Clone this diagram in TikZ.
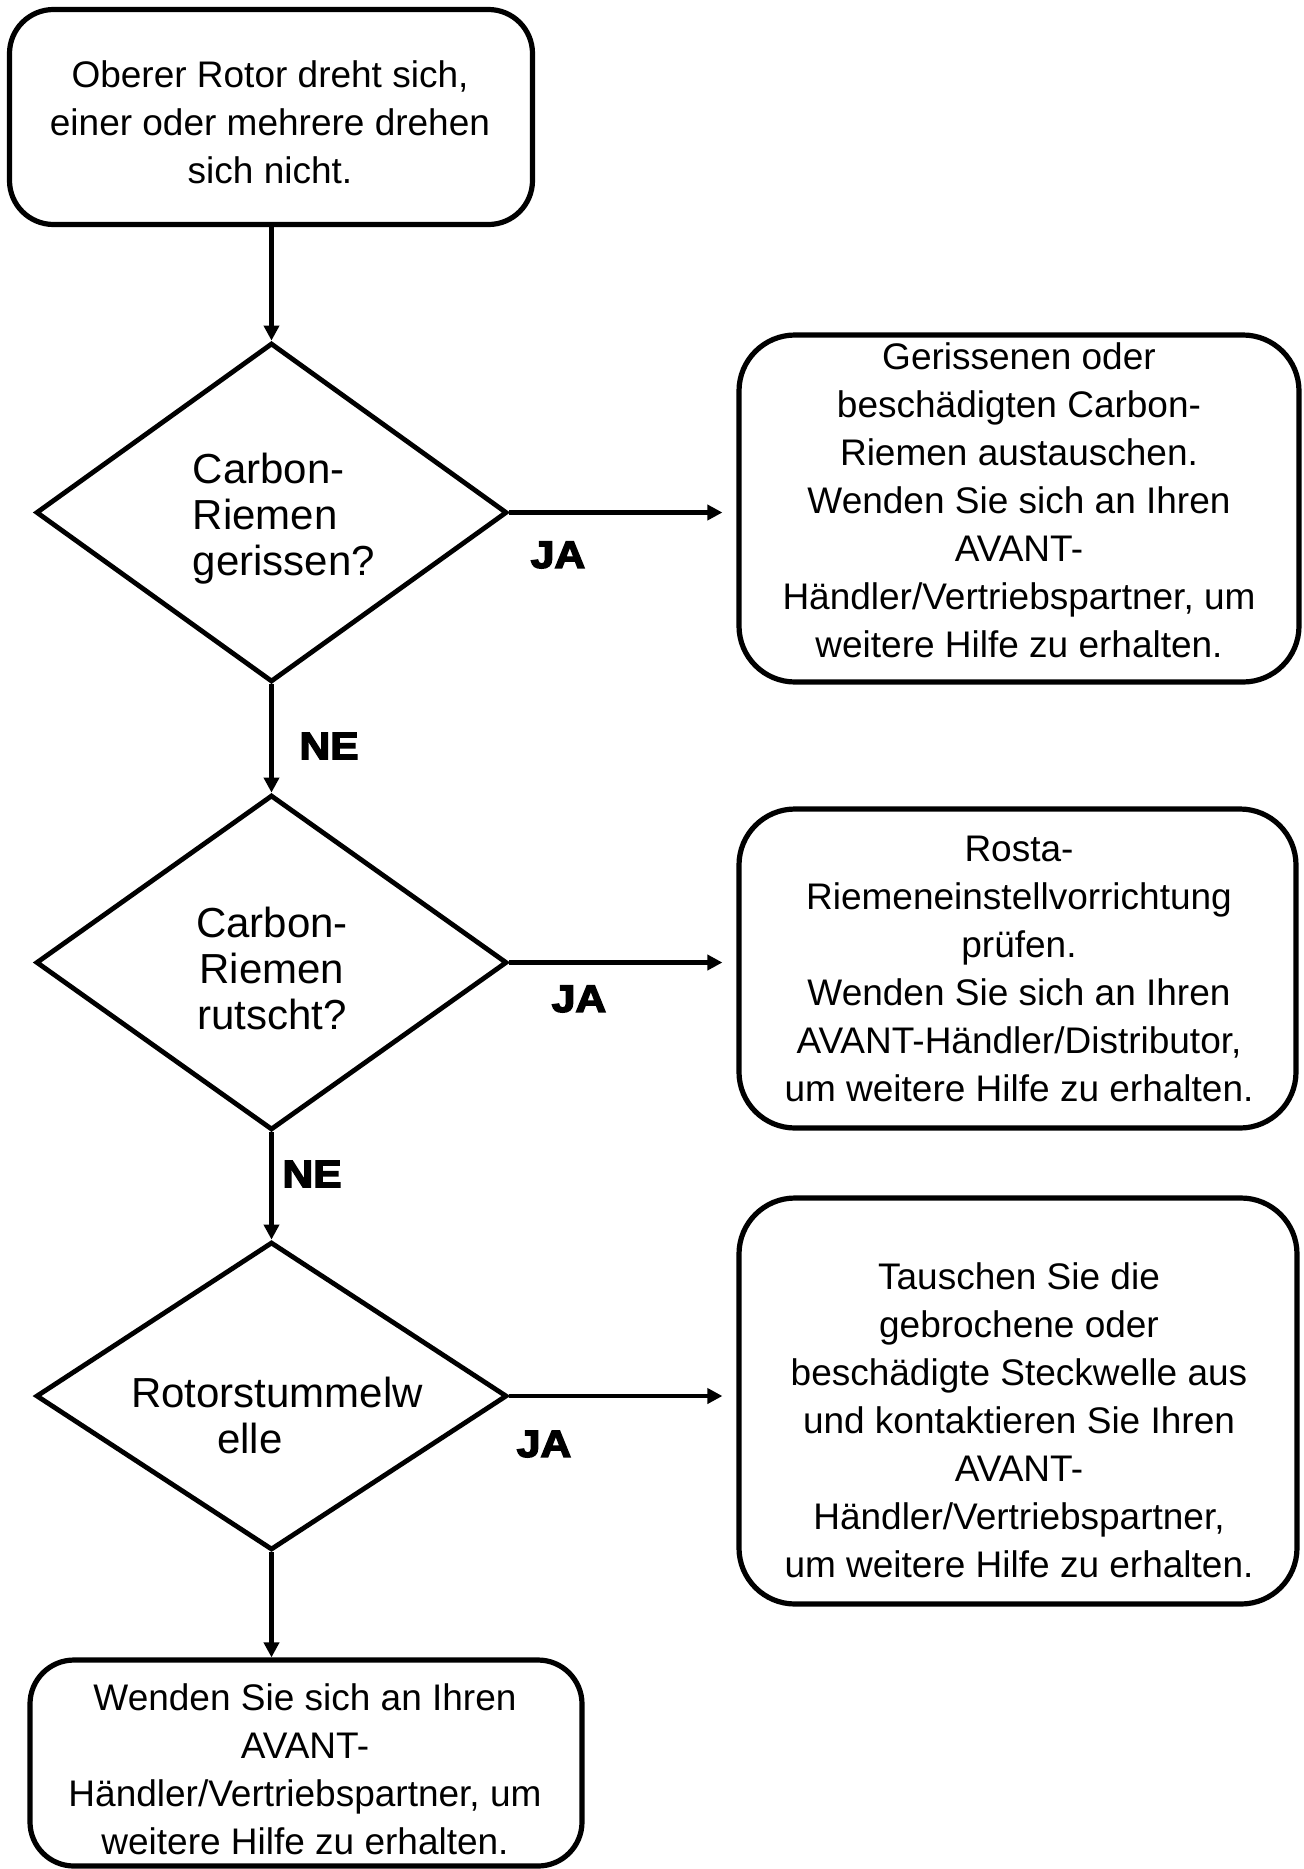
\documentclass[tikz,border=0pt]{standalone}
\usepackage{fontspec}
\setmainfont{Liberation Sans}
\newfontfamily\heavy{Liberation Sans Bold}[FakeBold=4,FakeStretch=1.12]
\usetikzlibrary{shapes.geometric,arrows.meta}
\begin{document}
\begin{tikzpicture}[x=0.5pt,y=-0.5pt,
  box/.style={draw, line width=2.6pt, rounded corners=22pt, inner sep=0pt},
  dia/.style={draw, shape=diamond, line width=2.4pt, inner sep=0pt, minimum width=235.5pt},
  txt/.style={align=center, font=\fontsize{18.5}{24}\selectfont, inner sep=0pt},
  dtxt/.style={font=\fontsize{21}{23}\selectfont, inner sep=0pt},
  lbl/.style={font=\heavy\fontsize{19}{22}\selectfont, inner sep=0pt},
  conn/.style={line width=2.1pt, -{Triangle[length=7.5pt,width=7.5pt]}}]
\useasboundingbox (0,0) rectangle (1304,1869);

% boxes
\node[box, minimum width=261.5pt, minimum height=107.5pt] (b1) at (271,117) {};
\node[box, rounded corners=28pt, minimum width=280pt, minimum height=173.5pt] (b2) at (1019,508.5) {};
\node[box, rounded corners=28pt, minimum width=278.5pt, minimum height=159.5pt] (b3) at (1017.5,968.5) {};
\node[box, rounded corners=28pt, minimum width=279pt, minimum height=203pt] (b4) at (1018,1401) {};
\node[box, minimum width=276pt, minimum height=103pt] (b5) at (306,1763) {};

% diamonds
\node[dia, minimum height=169.5pt] (d1) at (271.5,512.5) {};
\node[dia, minimum height=167.5pt] (d2) at (271.5,962.5) {};
\node[dia, minimum height=154pt] (d3) at (271.5,1396) {};

% texts
\node[txt] (t1) at (270,122) {Oberer Rotor dreht sich,\\einer oder mehrere drehen\\sich nicht.};
\node[txt] (t2) at (1019,500) {Gerissenen oder\\beschädigten Carbon-\\Riemen austauschen.\\Wenden Sie sich an Ihren\\AVANT-\\Händler/Vertriebspartner, um\\weitere Hilfe zu erhalten.};
\node[txt] (t3) at (1019,969) {Rosta-\\Riemeneinstellvorrichtung\\prüfen.\\Wenden Sie sich an Ihren\\AVANT-Händler/Distributor,\\um weitere Hilfe zu erhalten.};
\node[txt] (t4) at (1019,1420) {Tauschen Sie die\\gebrochene oder\\beschädigte Steckwelle aus\\und kontaktieren Sie Ihren\\AVANT-\\Händler/Vertriebspartner,\\um weitere Hilfe zu erhalten.};
\node[txt] (t5) at (305,1769) {Wenden Sie sich an Ihren\\AVANT-\\Händler/Vertriebspartner, um\\weitere Hilfe zu erhalten.};

\node[dtxt, align=left] (dt1) at (284,519) {Carbon-\\Riemen\\gerissen?};
\node[dtxt, align=center] (dt2) at (272,968) {Carbon-\\Riemen\\rutscht?};
\node[dtxt, align=center] (dt3) at (277,1415) {Rotorstummelw\\\hspace*{-27pt}elle};

% labels
\node[lbl] (ja1) at (558,555) {JA};
\node[lbl] (ja2) at (579,999) {JA};
\node[lbl] (ja3) at (544,1444) {JA};
\node[lbl] (ne1) at (329,746) {NE};
\node[lbl] (ne2) at (312,1174) {NE};

% connectors
\draw[conn] (b1.south -| d1.north) -- (d1.north);
\draw[conn] (d1.south) -- (d2.north);
\draw[conn] (d2.south) -- (d3.north);
\draw[conn] (d3.south) -- (d3.south |- b5.north);
\draw[conn, shorten >=7pt] (d1.east) -- (d1.east -| b2.west);
\draw[conn, shorten >=7pt] (d2.east) -- (d2.east -| b3.west);
\draw[conn, shorten >=7pt] (d3.east) -- (d3.east -| b4.west);
\end{tikzpicture}
\end{document}
